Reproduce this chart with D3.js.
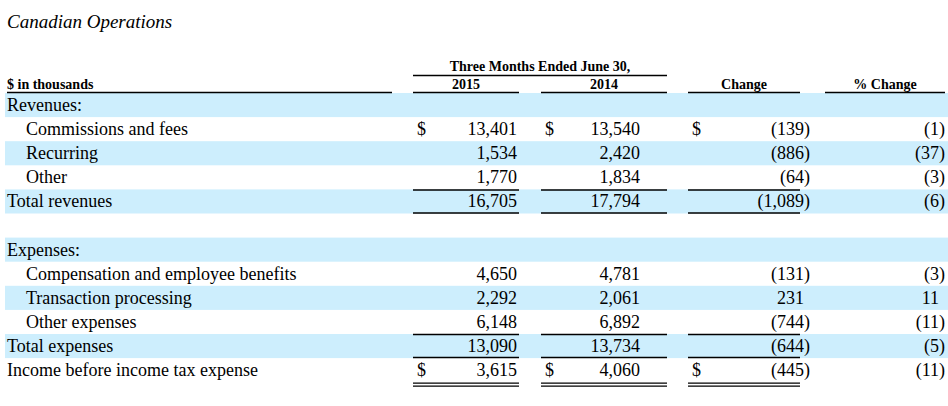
<!DOCTYPE html>
<html><head><meta charset="utf-8">
<script src="https://cdn.jsdelivr.net/npm/d3@7"></script>
<style>body{margin:0;background:#fff}</style>
</head><body>
<script>
// Table data
let labels = ["Revenues:", "Commissions and fees", "Recurring", "Other", "Total revenues", "",
  "Expenses:", "Compensation and employee benefits", "Transaction processing", "Other expenses",
  "Total expenses", "Income before income tax expense"];
let indent = [0, 1, 1, 1, 0, 0, 0, 1, 1, 1, 0, 0];
let v2015 = [null, 13401, 1534, 1770, 16705, null, null, 4650, 2292, 6148, 13090, 3615];
let v2014 = [null, 13540, 2420, 1834, 17794, null, null, 4781, 2061, 6892, 13734, 4060];
let change = [null, -139, -886, -64, -1089, null, null, -131, 231, -744, -644, -445];
let pctChange = [null, -1, -37, -3, -6, null, null, -3, 11, -11, -5, -11];
let dollarRows = [1, 11];
let lineAbove = [4, 10];      // single rule over the row, value columns
let doubleBelow = [11];

let W = 948, H = 406;
let svg = d3.select("body").append("svg").attr("width", W).attr("height", H)
  .style("font-family", "'Liberation Serif', 'Times New Roman', serif");

let y = d3.scaleBand().domain(d3.range(labels.length)).range([93, 93 + 24.1 * labels.length]);

// columns: [left, right]
let cols = { c1: [413, 519], c2: [541, 667], c3: [688, 800], c4: [825, 945] };
let fmt = d3.format(",");
let fs = "18px";

// shading
svg.selectAll("rect.band")
  .data(d3.range(labels.length).filter(i => i % 2 === 0 && labels[i] !== "" || i === 6))
  .enter().append("rect")
    .attr("x", 5).attr("width", W - 5)
    .attr("y", i => y(i)).attr("height", y.bandwidth())
    .attr("fill", "#cdeefd");

// title
svg.append("text").attr("x", 7).attr("y", 28)
  .style("font-style", "italic").style("font-size", "19px").text("Canadian Operations");

// headers
let hdr = svg.append("g").style("font-weight", "bold").style("font-size", "14px");
hdr.append("text").attr("x", 7).attr("y", 89).text("$ in thousands");
hdr.append("text").attr("x", (cols.c1[0] + cols.c2[1]) / 2).attr("y", 71)
  .attr("text-anchor", "middle").text("Three Months Ended June 30,");
[["c1", "2015"], ["c2", "2014"], ["c3", "Change"], ["c4", "% Change"]].forEach(([c, t]) => {
  hdr.append("text").attr("x", (cols[c][0] + cols[c][1]) / 2).attr("y", 89)
    .attr("text-anchor", "middle").text(t);
});
let rule = (x1, x2, yy, w) => svg.append("line").attr("x1", x1).attr("x2", x2)
  .attr("y1", yy).attr("y2", yy).attr("stroke", "#000").attr("stroke-width", w || 1.5);
rule(cols.c1[0], cols.c2[1], 75.5);
rule(7, 392, 92.5);
Object.values(cols).forEach(c => rule(c[0], c[1], 92.5));

// row labels
svg.selectAll("text.lab").data(labels).enter().append("text")
  .attr("x", (d, i) => indent[i] ? 26 : 7)
  .attr("y", (d, i) => y(i) + 18)
  .style("font-size", fs).text(d => d);

function drawCol(vals, c, rightX) {
  vals.forEach((v, i) => {
    if (v === null) return;
    let yy = y(i) + 18;
    svg.append("text").attr("x", rightX).attr("y", yy).attr("text-anchor", "end")
      .style("font-size", fs).text(v < 0 ? "(" + fmt(-v) : fmt(v));
    if (v < 0) svg.append("text").attr("x", rightX).attr("y", yy)
      .style("font-size", fs).text(")");
    if (c !== "c4" && dollarRows.includes(i))
      svg.append("text").attr("x", cols[c][0] + 4).attr("y", yy)
        .style("font-size", fs).text("$");
  });
}
drawCol(v2015, "c1", 517);
drawCol(v2014, "c2", 640);
drawCol(change, "c3", 804);
drawCol(pctChange, "c4", 939);

["c1", "c2", "c3"].forEach(c => {
  lineAbove.forEach(i => rule(cols[c][0], cols[c][1], y(i) + 0.5));
  lineAbove.forEach(i => rule(cols[c][0], cols[c][1], y(i) + y.bandwidth() - 0.5));
  doubleBelow.forEach(i => {
    rule(cols[c][0], cols[c][1], y(i) + y.bandwidth() + 1, 1.2);
    rule(cols[c][0], cols[c][1], y(i) + y.bandwidth() + 4, 1.2);
  });
});
</script>
</body></html>
